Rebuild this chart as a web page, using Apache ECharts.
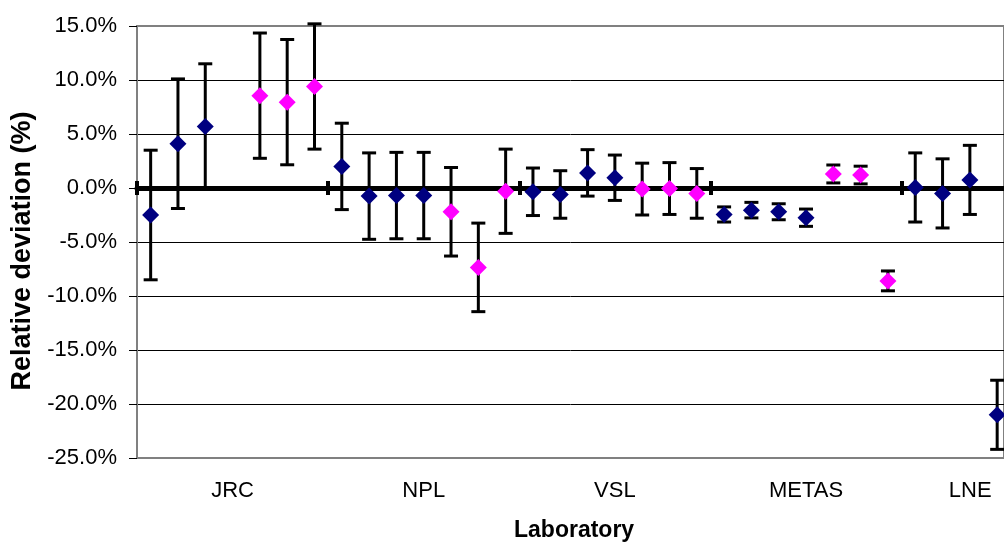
<!DOCTYPE html>
<html>
<head>
<meta charset="utf-8">
<script src="https://cdn.jsdelivr.net/npm/echarts@6/dist/echarts.min.js"></script>
<style>
html, body { margin: 0; padding: 0; background: #fff; }
#chart { width: 1004px; height: 547px; }
</style>
</head>
<body>
<div id="chart"></div>
<script>
// 5 laboratories, 7 slots each (the 4th slot carries the label)
var labs = ['JRC', 'NPL', 'VSL', 'METAS', 'LNE'];
var slotsPerLab = 7;
var visibleSlots = 31.75; // picture is cut inside the LNE group

// relative deviation (%) per slot, null = empty slot
var blueVal = [-2.5, 4.1, 5.7, null, null, null, null,
               2.0, -0.75, -0.7, -0.7, null, null, null,
               -0.35, -0.6, 1.4, 0.95, null, null, null,
               -2.45, -2.05, -2.2, -2.75, null, null, null,
               0.05, -0.5, 0.75, -21.0];
var blueErr = [6.0, 6.0, 5.8, null, null, null, null,
               4.0, 4.0, 4.0, 4.0, null, null, null,
               2.2, 2.2, 2.15, 2.1, null, null, null,
               0.7, 0.72, 0.74, 0.8, null, null, null,
               3.2, 3.2, 3.2, 3.2];
var pinkVal = [null, null, null, null, 8.55, 7.95, 9.4,
               null, null, null, null, -2.2, -7.35, -0.3,
               null, null, null, null, -0.1, -0.05, -0.5,
               null, null, null, null, 1.3, 1.2, -8.6];
var pinkErr = [null, null, null, null, 5.8, 5.8, 5.8,
               null, null, null, null, 4.1, 4.1, 3.9,
               null, null, null, null, 2.4, 2.4, 2.3,
               null, null, null, null, 0.83, 0.82, 0.92];

var yTicks = [-25, -20, -15, -10, -5, 0, 5, 10, 15];

var labCenters = labs.map(function (l, k) { return k * slotsPerLab + slotsPerLab / 2; });
var labBounds = labs.map(function (l, k) { return k * slotsPerLab; });

function points(vals) {
    var out = [];
    for (var i = 0; i < vals.length; i++) {
        if (vals[i] != null) out.push([i + 0.5, vals[i]]);
    }
    return out;
}

function errData(vals, errs) {
    var out = [];
    for (var i = 0; i < vals.length; i++) {
        if (vals[i] != null) out.push([i + 0.5, vals[i] - errs[i], vals[i] + errs[i]]);
    }
    return out;
}

function renderErrorBar(params, api) {
    var x = api.value(0);
    var lo = api.coord([x, api.value(1)]);
    var hi = api.coord([x, api.value(2)]);
    var half = 7;
    var st = { stroke: '#000', lineWidth: 3 };
    return {
        type: 'group',
        children: [
            { type: 'line', shape: { x1: hi[0], y1: hi[1], x2: lo[0], y2: lo[1] }, style: st },
            { type: 'line', shape: { x1: hi[0] - half, y1: hi[1], x2: hi[0] + half, y2: hi[1] }, style: st },
            { type: 'line', shape: { x1: lo[0] - half, y1: lo[1], x2: lo[0] + half, y2: lo[1] }, style: st }
        ]
    };
}

var font = 'Liberation Sans, Arial, sans-serif';
var gridColors = yTicks.map(function (v, k) {
    return (k === 0 || k === yTicks.length - 1) ? '#808080' : '#000';
});

var chart = echarts.init(document.getElementById('chart'));
chart.setOption({
    animation: false,
    title: {
        text: 'Laboratory',
        left: 514,
        top: 519,
        padding: 0,
        textStyle: { fontFamily: font, fontSize: 23, fontWeight: 'bold', color: '#000' }
    },
    grid: {
        left: 137, top: 26, right: 0, bottom: 89,
        show: true, borderColor: '#808080', borderWidth: 2
    },
    xAxis: [{
        type: 'value',
        min: 0,
        max: visibleSlots,
        position: 'bottom',
        axisLine: { onZero: false, lineStyle: { color: '#808080', width: 2 } },
        axisTick: { show: false },
        axisLabel: {
            customValues: labCenters,
            formatter: function (v) {
                var name = labs[Math.floor(v / slotsPerLab)];
                return name === 'LNE' ? '{r|' + name + '}' : name;
            },
            rich: { r: { fontFamily: font, fontSize: 22, color: '#000', padding: [0, 54, 0, 0] } },
            fontFamily: font, fontSize: 22, color: '#000', margin: 22
        },
        splitLine: { show: false }
    }, {
        type: 'value',
        min: 0,
        max: visibleSlots,
        position: 'bottom',
        axisLine: { onZero: true, onZeroAxisIndex: 0, lineStyle: { color: '#000', width: 5 } },
        axisTick: { show: true, customValues: labBounds, length: 7, lineStyle: { color: '#000', width: 4 } },
        axisLabel: { show: false },
        splitLine: { show: false }
    }, {
        type: 'value',
        min: 0,
        max: visibleSlots,
        position: 'top',
        axisLine: { show: false, onZero: true, onZeroAxisIndex: 0 },
        axisTick: { show: true, customValues: labBounds, length: 7, lineStyle: { color: '#000', width: 4 } },
        axisLabel: { show: false },
        splitLine: { show: false }
    }],
    yAxis: {
        type: 'value',
        min: yTicks[0],
        max: yTicks[yTicks.length - 1],
        interval: 5,
        name: 'Relative deviation (%)',
        nameLocation: 'middle',
        nameGap: 99,
        nameTextStyle: { fontFamily: font, fontSize: 27, fontWeight: 'bold', color: '#000', padding: [0, 18, 0, 0] },
        axisLine: { show: true, onZero: false, lineStyle: { color: '#808080', width: 2 } },
        axisTick: { show: true, length: 8, lineStyle: { color: '#000', width: 1 } },
        axisLabel: {
            formatter: function (v) { return v.toFixed(1) + '%'; },
            fontFamily: font, fontSize: 22, color: '#000', margin: 20
        },
        splitLine: { show: true, lineStyle: { color: gridColors, width: 1 } }
    },
    series: [{
        type: 'custom',
        xAxisIndex: 0,
        renderItem: renderErrorBar,
        encode: { x: 0, y: [1, 2] },
        data: errData(blueVal, blueErr),
        z: 3
    }, {
        type: 'custom',
        xAxisIndex: 0,
        renderItem: renderErrorBar,
        encode: { x: 0, y: [1, 2] },
        data: errData(pinkVal, pinkErr),
        z: 3
    }, {
        type: 'scatter',
        xAxisIndex: 0,
        symbol: 'diamond',
        symbolSize: 17,
        itemStyle: { color: '#000080', opacity: 1 },
        data: points(blueVal),
        z: 4
    }, {
        type: 'scatter',
        xAxisIndex: 0,
        symbol: 'diamond',
        symbolSize: 17,
        itemStyle: { color: '#FF00FF', opacity: 1 },
        data: points(pinkVal),
        z: 4
    }]
});
</script>
</body>
</html>
